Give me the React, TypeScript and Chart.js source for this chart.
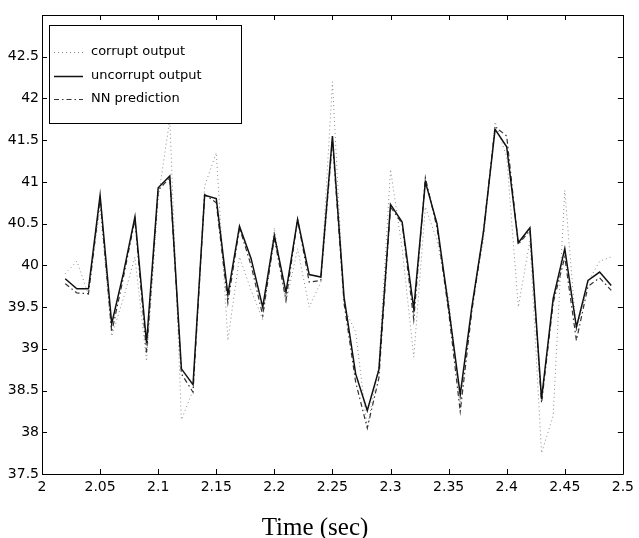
import React, { useEffect, useRef } from "react";
import Chart from "chart.js/auto";

const times: number[] = [
  2.02, 2.03, 2.04, 2.05, 2.06, 2.07, 2.08, 2.09, 2.1, 2.11, 2.12, 2.13, 2.14, 2.15, 2.16, 2.17,
  2.18, 2.19, 2.2, 2.21, 2.22, 2.23, 2.24, 2.25, 2.26, 2.27, 2.28, 2.29, 2.3, 2.31, 2.32, 2.33,
  2.34, 2.35, 2.36, 2.37, 2.38, 2.39, 2.4, 2.41, 2.42, 2.43, 2.44, 2.45, 2.46, 2.47, 2.48, 2.49,
];

const uncorrupt: number[] = [
  39.84, 39.72, 39.72, 40.84, 39.3, 39.9, 40.58, 39.07, 40.93, 41.07, 38.76, 38.57, 40.84, 40.8, 39.65, 40.47,
  40.08, 39.5, 40.36, 39.68, 40.55, 39.89, 39.86, 41.55, 39.62, 38.7, 38.26, 38.75, 40.73, 40.52, 39.48, 41.0,
  40.5, 39.5, 38.45, 39.5, 40.4, 41.63, 41.42, 40.27, 40.45, 38.4, 39.6, 40.2, 39.26, 39.82, 39.92, 39.76,
];

const prediction: number[] = [
  39.78, 39.67, 39.66, 40.8, 39.2, 39.85, 40.55, 38.95, 40.9, 41.05, 38.7, 38.48, 40.85, 40.75, 39.55, 40.45,
  40.0, 39.4, 40.33, 39.58, 40.55, 39.8, 39.82, 41.5, 39.55, 38.6, 38.05, 38.65, 40.7, 40.5, 39.35, 41.05,
  40.45, 39.45, 38.25, 39.45, 40.4, 41.66, 41.55, 40.25, 40.42, 38.35, 39.55, 40.1, 39.1, 39.75, 39.85, 39.7,
];

const corrupt: number[] = [
  39.9, 40.05, 39.65, 40.7, 39.15, 39.6, 40.1, 38.85, 40.8, 41.75, 38.15, 38.5, 40.95, 41.35, 39.1, 40.1,
  39.7, 39.35, 40.45, 39.55, 40.2, 39.5, 39.8, 42.2, 39.5, 39.2, 38.05, 38.8, 41.15, 40.2, 38.9, 40.7,
  40.3, 39.6, 38.3, 39.5, 40.3, 41.72, 41.3, 39.5, 40.3, 37.75, 38.2, 40.9, 39.2, 39.8, 40.05, 40.1,
];

const xTicks: number[] = [2, 2.05, 2.1, 2.15, 2.2, 2.25, 2.3, 2.35, 2.4, 2.45, 2.5];
const yTicks: number[] = [37.5, 38, 38.5, 39, 39.5, 40, 40.5, 41, 41.5, 42, 42.5];

const legendLabels: string[] = ["corrupt output", "uncorrupt output", "NN prediction"];
const xTitle = "Time (sec)";

const fmt = (v: number) => String(Number(v.toFixed(2)));

const toPts = (ys: number[]) => ys.map((y, i) => ({ x: times[i], y }));

const STYLES = [
  { color: "#8a8a8a", width: 1, dash: [1, 3] },
  { color: "#111111", width: 1.5, dash: [] as number[] },
  { color: "#333333", width: 1.2, dash: [5, 3, 1.5, 3] },
];

const framePlugin = {
  id: "matlabFrame",
  afterDatasetsDraw(chart: any) {
    const { ctx, chartArea: a, scales } = chart;
    const xs = scales.x;
    const ys = scales.y;
    ctx.save();
    ctx.strokeStyle = "#000";
    ctx.lineWidth = 1;
    ctx.setLineDash([]);
    ctx.beginPath();
    ctx.rect(Math.round(a.left) + 0.5, Math.round(a.top) + 0.5, Math.round(a.right - a.left), Math.round(a.bottom - a.top));
    ctx.stroke();
    const tl = 5;
    ctx.beginPath();
    xTicks.forEach((t) => {
      const px = Math.round(xs.getPixelForValue(t)) + 0.5;
      ctx.moveTo(px, a.bottom);
      ctx.lineTo(px, a.bottom - tl);
      ctx.moveTo(px, a.top);
      ctx.lineTo(px, a.top + tl);
    });
    yTicks.forEach((t) => {
      const py = Math.round(ys.getPixelForValue(t)) + 0.5;
      ctx.moveTo(a.left, py);
      ctx.lineTo(a.left + tl, py);
      ctx.moveTo(a.right, py);
      ctx.lineTo(a.right - tl, py);
    });
    ctx.stroke();

    // legend box
    const bx = 49.5, by = 25.5, bw = 192, bh = 98;
    ctx.fillStyle = "#fff";
    ctx.fillRect(bx, by, bw, bh);
    ctx.strokeStyle = "#000";
    ctx.lineWidth = 1;
    ctx.strokeRect(bx, by, bw, bh);
    const rows = [52, 76, 99];
    ctx.font = '13px "DejaVu Sans"';
    ctx.textBaseline = "middle";
    ctx.textAlign = "left";
    legendLabels.forEach((lab, i) => {
      const st = STYLES[i];
      ctx.strokeStyle = st.color;
      ctx.lineWidth = st.width;
      ctx.setLineDash(st.dash);
      ctx.beginPath();
      ctx.moveTo(54, rows[i] + 0.5);
      ctx.lineTo(83, rows[i] + 0.5);
      ctx.stroke();
      ctx.setLineDash([]);
      ctx.fillStyle = "#000";
      ctx.fillText(lab, 91, rows[i]);
    });

    // x title
    ctx.font = '25px "Liberation Serif"';
    ctx.textAlign = "center";
    ctx.textBaseline = "alphabetic";
    ctx.fillStyle = "#000";
    ctx.fillText(xTitle, 315, 535);
    ctx.restore();
  },
};

export default function App() {
  const ref = useRef<HTMLCanvasElement | null>(null);
  useEffect(() => {
    if (!ref.current) return;
    const series = [corrupt, uncorrupt, prediction];
    const order = [2, 0, 1];
    const chart = new Chart(ref.current, {
      type: "line",
      data: {
        datasets: series.map((s, i) => ({
          label: legendLabels[i],
          data: toPts(s),
          borderColor: STYLES[i].color,
          borderWidth: STYLES[i].width,
          borderDash: STYLES[i].dash,
          pointRadius: 0,
          tension: 0,
          fill: false,
          order: order[i],
        })),
      },
      options: {
        animation: false,
        responsive: false,
        maintainAspectRatio: false,
        layout: { padding: { top: 15, right: 12, left: 0, bottom: 0 } },
        plugins: { legend: { display: false }, tooltip: { enabled: false }, title: { display: false } },
        scales: {
          x: {
            type: "linear",
            min: 2,
            max: 2.5,
            afterFit: (s: any) => { s.height = 64; },
            afterBuildTicks: (s: any) => { s.ticks = xTicks.map((v) => ({ value: v })); },
            ticks: {
              callback: (v: any) => fmt(Number(v)),
              font: { family: "DejaVu Sans", size: 14 },
              color: "#000",
              padding: 5,
              maxRotation: 0,
              autoSkip: false,
            },
            grid: { display: false, drawTicks: false },
            border: { display: false },
          },
          y: {
            type: "linear",
            min: 37.5,
            max: 43,
            afterFit: (s: any) => { s.width = 42; },
            afterBuildTicks: (s: any) => { s.ticks = yTicks.map((v) => ({ value: v })); },
            ticks: {
              callback: (v: any) => fmt(Number(v)),
              font: { family: "DejaVu Sans", size: 14 },
              color: "#000",
              padding: 3,
              autoSkip: false,
            },
            grid: { display: false, drawTicks: false },
            border: { display: false },
          },
        },
      },
      plugins: [framePlugin],
    });
    return () => chart.destroy();
  }, []);
  return (
    <div style={{ position: "absolute", left: 0, top: 0, width: 639, height: 538, background: "#fff" }}>
      <canvas ref={ref} width={639} height={538} style={{ display: "block" }} />
    </div>
  );
}
